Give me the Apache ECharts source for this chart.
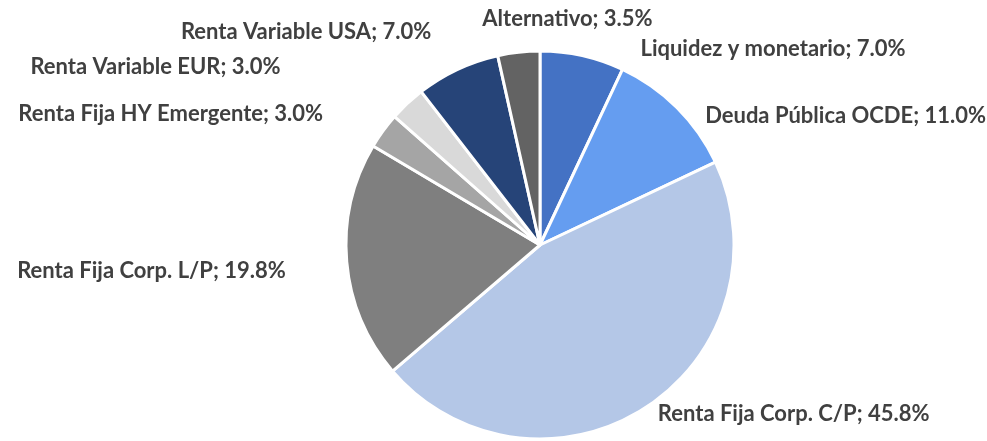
<!DOCTYPE html>
<html>
<head>
<meta charset="utf-8">
<script src="https://cdn.jsdelivr.net/npm/echarts@6/dist/echarts.min.js"></script>
<style>
  html, body { margin: 0; padding: 0; background: #fff; }
  #chart { width: 987px; height: 441px; }
</style>
</head>
<body>
<div id="chart"></div>
<script>
// categories and values, clockwise from 12 o'clock
const categories = [
  'Liquidez y monetario',
  'Deuda Pública OCDE',
  'Renta Fija Corp. C/P',
  'Renta Fija Corp. L/P',
  'Renta Fija HY Emergente',
  'Renta Variable EUR',
  'Renta Variable USA',
  'Alternativo'
]
const values = [7.0, 11.0, 45.8, 19.8, 3.0, 3.0, 7.0, 3.5]
const colors = ['#4472C4', '#659DF0', '#B4C7E7', '#7F7F7F', '#A5A5A5', '#D9D9D9', '#264478', '#636363']

// nudges so labels sit where the original put them
const labelShift = [
  [51, 3], [16, 15], [2, -2], [-46, 8],
  [-47, -11], [-115, -29], [-17, -28], [140, -23]
]

const chart = echarts.init(document.getElementById('chart'))

const option = {
  animation: false,
  series: [
    {
      type: 'pie',
      center: [540, 245],
      radius: 194,
      startAngle: 90,
      clockwise: true,
      avoidLabelOverlap: false,
      data: categories.map((name, i) => ({
        name,
        value: values[i],
        itemStyle: { color: colors[i] }
      })),
      itemStyle: {
        borderColor: '#fff',
        borderWidth: 3
      },
      label: {
        show: true,
        position: 'outside',
        formatter: p => p.name + '; ' + p.value.toFixed(1) + '%',
        fontFamily: 'Lato',
        fontWeight: 'bold',
        fontSize: 22,
        color: '#404040'
      },
      labelLine: { show: false, length: 10, length2: 0 },
      labelLayout: p => ({
        hideOverlap: false,
        dx: labelShift[p.dataIndex][0],
        dy: labelShift[p.dataIndex][1]
      }),
      emphasis: { disabled: true }
    }
  ]
}

chart.setOption(option)
</script>
</body>
</html>
